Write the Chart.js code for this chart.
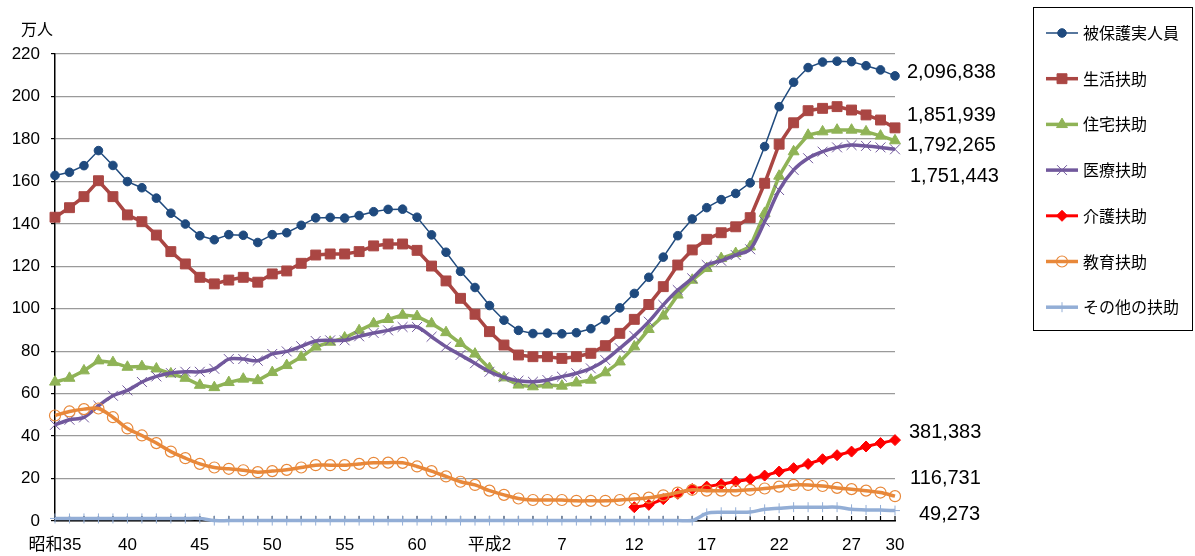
<!DOCTYPE html>
<html lang="ja">
<head>
  <meta charset="UTF-8">
  <title>被保護実人員・扶助の種類別扶助人員の推移</title>
  <script src="https://cdn.jsdelivr.net/npm/chart.js"></script>
  <style>
    body {
      margin: 0;
      padding: 0;
      background: #ffffff;
    }

    .wrap {
      position: relative;
      width: 1195px;
      height: 556px;
    }
  </style>
</head>
<body>
  <div class="wrap">
    <canvas id="fujoChart"></canvas>
  </div>

  <script>
    // 年度 (昭和35 = 1960 ... 平成30 = 2018)
    const years = [
      '昭和35', '昭和36', '昭和37', '昭和38', '昭和39', '昭和40', '昭和41', '昭和42', '昭和43', '昭和44',
      '昭和45', '昭和46', '昭和47', '昭和48', '昭和49', '昭和50', '昭和51', '昭和52', '昭和53', '昭和54',
      '昭和55', '昭和56', '昭和57', '昭和58', '昭和59', '昭和60', '昭和61', '昭和62', '昭和63', '平成元',
      '平成2', '平成3', '平成4', '平成5', '平成6', '平成7', '平成8', '平成9', '平成10', '平成11',
      '平成12', '平成13', '平成14', '平成15', '平成16', '平成17', '平成18', '平成19', '平成20', '平成21',
      '平成22', '平成23', '平成24', '平成25', '平成26', '平成27', '平成28', '平成29', '平成30'
    ];

    // x軸に表示する目盛
    const tickYears = ['昭和35', '昭和40', '昭和45', '昭和50', '昭和55', '昭和60', '平成2', '平成7', '平成12', '平成17', '平成22', '平成27', '平成30'];
    const tickLabels = ['昭和35', '40', '45', '50', '55', '60', '平成2', '7', '12', '17', '22', '27', '30'];

    const seriesNames = ['被保護実人員', '生活扶助', '住宅扶助', '医療扶助', '介護扶助', '教育扶助', 'その他の扶助'];

    // 単位: 万人
    const hogoJinin = [
      162.8, 164.3, 167.4, 174.5, 167.5, 159.9, 157.0, 152.1, 145.0, 139.9,
      134.4, 132.5, 134.9, 134.6, 131.2, 134.9, 135.8, 139.3, 142.8, 143.0,
      142.7, 143.9, 145.7, 146.8, 146.9, 143.1, 134.8, 126.6, 117.6, 110.0,
      101.5, 94.6, 89.8, 88.3, 88.5, 88.2, 88.7, 90.6, 94.7, 100.4,
      107.2, 114.8, 124.3, 134.4, 142.3, 147.6, 151.4, 154.3, 159.3, 176.4,
      195.2, 206.7, 213.6, 216.2, 216.6, 216.4, 214.5, 212.5, 209.7
    ];
    const seikatsu = [
      143.1, 147.6, 152.8, 160.3, 152.8, 144.2, 141.0, 134.7, 126.9, 121.1,
      114.8, 111.7, 113.5, 114.8, 112.5, 116.4, 117.8, 121.4, 125.3, 125.8,
      125.8, 126.9, 129.6, 130.5, 130.5, 127.5, 120.1, 113.1, 104.9, 97.4,
      89.2, 82.9, 78.2, 77.4, 77.4, 76.6, 77.4, 79.0, 82.6, 88.4,
      95.0, 102.0, 110.4, 120.6, 127.7, 132.7, 135.8, 138.6, 142.9, 159.1,
      177.5, 187.6, 193.3, 194.4, 195.2, 193.6, 191.3, 188.9, 185.2
    ];
    const jutaku = [
      65.5, 67.3, 70.8, 75.5, 74.7, 72.5, 72.8, 71.7, 69.4, 67.3,
      64.0, 62.9, 65.3, 66.9, 66.2, 70.0, 73.3, 77.2, 82.0, 84.3,
      86.3, 89.7, 93.0, 95.0, 97.0, 96.4, 93.0, 88.8, 83.7, 78.7,
      71.9, 67.5, 64.1, 63.3, 64.1, 63.6, 65.1, 66.4, 69.9, 75.0,
      82.1, 90.3, 96.6, 106.5, 113.5, 119.0, 123.7, 126.1, 129.2, 145.0,
      162.5, 174.0, 181.8, 183.4, 184.2, 184.2, 183.4, 181.4, 179.2
    ];
    const iryo = [
      45.3, 47.7, 48.8, 54.3, 59.0, 61.5, 65.5, 68.1, 69.7, 70.3,
      70.3, 71.7, 76.3, 76.3, 75.5, 78.7, 79.9, 82.3, 84.8, 85.1,
      85.1, 87.0, 88.6, 89.8, 91.4, 91.4, 86.8, 82.1, 78.2, 74.3,
      70.3, 67.7, 66.1, 65.6, 66.4, 68.0, 69.6, 71.9, 75.8, 81.4,
      87.2, 93.9, 101.8, 108.8, 114.3, 120.6, 122.6, 125.3, 128.0, 141.0,
      155.9, 165.4, 170.9, 174.0, 176.0, 177.1, 176.7, 176.0, 175.1
    ];
    const kaigo = [
      null, null, null, null, null, null, null, null, null, null,
      null, null, null, null, null, null, null, null, null, null,
      null, null, null, null, null, null, null, null, null, null,
      null, null, null, null, null, null, null, null, null, null,
      6.5, 7.6, 10.3, 12.8, 15.1, 16.2, 17.3, 18.6, 19.7, 21.4,
      23.3, 24.9, 26.9, 29.1, 31.0, 32.7, 35.1, 36.7, 38.1
    ];
    const kyoiku = [
      49.7, 51.6, 52.7, 53.0, 48.9, 43.6, 40.3, 36.7, 32.7, 29.6,
      26.9, 25.2, 24.6, 23.9, 23.0, 23.5, 24.1, 25.2, 26.3, 26.3,
      26.3, 26.9, 27.4, 27.5, 27.4, 25.7, 23.5, 21.0, 18.5, 17.0,
      14.3, 12.3, 10.6, 9.9, 9.9, 9.9, 9.5, 9.5, 9.5, 9.9,
      10.4, 11.0, 12.1, 13.4, 14.7, 14.3, 14.3, 14.3, 14.7, 15.3,
      16.2, 17.0, 17.0, 16.5, 15.6, 15.0, 14.3, 13.4, 11.7
    ];
    const sonota = [
      1.2, 1.2, 1.2, 1.2, 1.2, 1.2, 1.2, 1.2, 1.2, 1.2,
      1.2, 0.2, 0.2, 0.2, 0.2, 0.2, 0.2, 0.2, 0.2, 0.2,
      0.2, 0.2, 0.2, 0.2, 0.2, 0.2, 0.2, 0.2, 0.2, 0.2,
      0.2, 0.2, 0.2, 0.2, 0.2, 0.2, 0.2, 0.2, 0.2, 0.2,
      0.2, 0.2, 0.2, 0.2, 0.2, 3.6, 4.1, 4.1, 4.2, 5.5,
      6.0, 6.5, 6.5, 6.5, 6.5, 5.5, 5.2, 5.2, 4.9
    ];

    // 平成30年度の実数 (人)
    const lastValues = [2096838, 1851939, 1792265, 1751443, 381383, 116731, 49273];

    const FONT = "'Liberation Sans', 'Noto Sans CJK JP', sans-serif";
    const JP_FONT = "'Noto Sans CJK JP', 'Liberation Sans', sans-serif";

    const styles = [
      { color: '#1F4A7E', fill: '#1F4A7E', width: 1.5, point: 'circle', r: 4.3, pw: 1, tension: 0 },
      { color: '#AA4643', fill: '#AA4643', width: 3.5, point: 'rect', r: 7, pw: 1, tension: 0 },
      { color: '#8FB356', fill: '#8FB356', width: 3.5, point: 'triangle', r: 6.3, pw: 1, tension: 0 },
      { color: '#71589C', fill: '#71589C', width: 3.5, point: 'crossRot', r: 7, pw: 1, tension: 0.3 },
      { color: '#FF0000', fill: '#FF0000', width: 3, point: 'rectRot', r: 5.5, pw: 1, tension: 0 },
      { color: '#E8883A', fill: 'rgba(0,0,0,0)', width: 3.5, point: 'circle', r: 5.5, pw: 1.2, tension: 0.3 },
      { color: '#93AED6', fill: '#93AED6', width: 3.5, point: 'cross', r: 5, pw: 1, tension: 0.3 }
    ];

    const seriesData = [hogoJinin, seikatsu, jutaku, iryo, kaigo, kyoiku, sonota];

    const datasets = seriesData.map((d, i) => ({
      label: seriesNames[i],
      data: d,
      borderColor: styles[i].color,
      backgroundColor: styles[i].color,
      borderWidth: styles[i].width,
      pointStyle: styles[i].point,
      pointRadius: styles[i].r,
      pointHoverRadius: styles[i].r,
      pointBackgroundColor: styles[i].fill,
      pointBorderColor: styles[i].color,
      pointBorderWidth: styles[i].pw,
      tension: styles[i].tension,
      spanGaps: false,
      clip: false,
      order: seriesData.length - i
    }));

    // 右側の数値ラベルの位置 (y は目盛の値)
    const endLabelPos = [
      { dx: 12, y: 211.1 },
      { dx: 12, y: 190.8 },
      { dx: 12, y: 176.9 },
      { dx: 15, y: 162.1 },
      { dx: 14, y: 41.5 },
      { dx: 15, y: 19.8 },
      { dx: 24, y: 3.3 }
    ];

    const decorPlugin = {
      id: 'decor',
      beforeDatasetsDraw(chart) {
        // x軸の内向き目盛
        const ctx = chart.ctx;
        const xs = chart.scales.x;
        const bottom = chart.chartArea.bottom;
        ctx.save();
        ctx.strokeStyle = '#000';
        ctx.lineWidth = 1.2;
        for (let i = 0; i < years.length; i++) {
          const x = xs.getPixelForTick(i);
          ctx.beginPath();
          ctx.moveTo(x, bottom);
          ctx.lineTo(x, bottom - 5);
          ctx.stroke();
        }
        ctx.restore();
      },
      afterDraw(chart) {
        const ctx = chart.ctx;
        const area = chart.chartArea;
        const ys = chart.scales.y;
        ctx.save();

        // 単位
        ctx.fillStyle = '#000';
        ctx.font = '16px ' + JP_FONT;
        ctx.textAlign = 'left';
        ctx.textBaseline = 'middle';
        ctx.fillText('万人', 21, 29);

        // 最終年度の数値
        ctx.font = '20px ' + FONT;
        lastValues.forEach((v, i) => {
          const p = endLabelPos[i];
          ctx.fillText(v.toLocaleString('en-US'), area.right + p.dx, ys.getPixelForValue(p.y));
        });

        // 凡例
        const boxX = 1033.5, boxY = 7.5, boxW = 159, boxH = 323;
        ctx.strokeStyle = '#000';
        ctx.lineWidth = 1;
        ctx.strokeRect(boxX, boxY, boxW, boxH);

        ctx.font = '16px ' + JP_FONT;
        datasets.forEach((ds, i) => {
          const y = 33 + i * 45.7;
          ctx.strokeStyle = ds.borderColor;
          ctx.lineWidth = ds.borderWidth;
          ctx.beginPath();
          ctx.moveTo(1046, y);
          ctx.lineTo(1078, y);
          ctx.stroke();

          ctx.fillStyle = ds.pointBackgroundColor;
          ctx.strokeStyle = ds.pointBorderColor;
          ctx.lineWidth = ds.pointBorderWidth;
          Chart.helpers.drawPoint(ctx, {
            pointStyle: ds.pointStyle,
            radius: ds.pointRadius,
            rotation: 0,
            borderWidth: ds.pointBorderWidth
          }, 1062, y);

          ctx.fillStyle = '#000';
          ctx.textAlign = 'left';
          ctx.textBaseline = 'middle';
          ctx.fillText(ds.label, 1083, y);
        });

        ctx.restore();
      }
    };

    const config = {
      type: 'line',
      data: {
        labels: years,
        datasets: datasets
      },
      options: {
        responsive: true,
        maintainAspectRatio: false,
        animation: false,
        layout: {
          padding: { top: 54, right: 300, bottom: 0, left: 0 }
        },
        plugins: {
          legend: { display: false },
          tooltip: { enabled: false }
        },
        scales: {
          x: {
            type: 'category',
            offset: false,
            afterFit(scale) { scale.height = 35; },
            grid: {
              display: true,
              drawOnChartArea: false,
              drawTicks: false
            },
            border: { color: '#000', width: 1.5 },
            ticks: {
              autoSkip: false,
              maxRotation: 0,
              padding: 14,
              color: '#000',
              font: { size: 17, family: FONT },
              callback: function (value) {
                const k = tickYears.indexOf(this.getLabelForValue(value));
                return k >= 0 ? tickLabels[k] : '';
              }
            }
          },
          y: {
            min: 0,
            max: 220,
            afterFit(scale) { scale.width = 55; },
            grid: {
              color: '#9A9A9A',
              lineWidth: 1.2,
              tickColor: '#000',
              tickLength: 4
            },
            border: { color: '#000', width: 1.5 },
            ticks: {
              stepSize: 20,
              padding: 11,
              color: '#000',
              font: { size: 17, family: FONT }
            }
          }
        }
      },
      plugins: [decorPlugin]
    };

    const fujoChart = new Chart(document.getElementById('fujoChart'), config);
  </script>
</body>
</html>
